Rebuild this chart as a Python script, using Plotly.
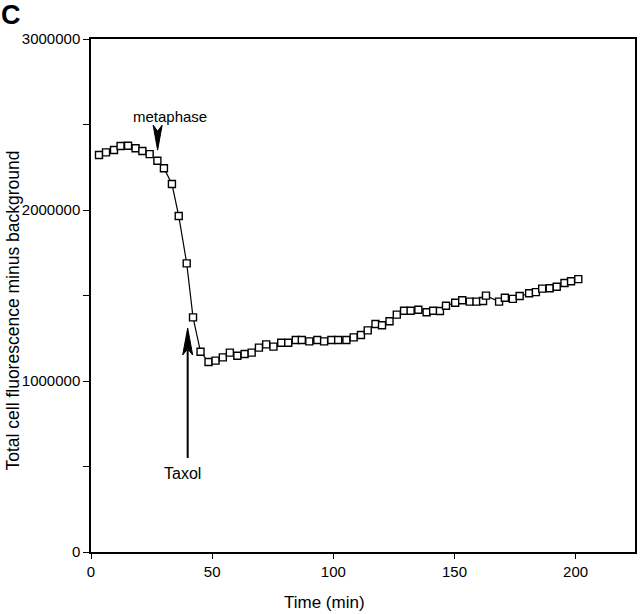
import plotly.graph_objects as go

# Time (min) and total fluorescence values
time_min = [3.3, 6.2, 9.5, 12.2, 15.3, 18.4, 21.2, 24.2, 27.4, 30.1,
            33.4, 36.2, 39.5, 42.1, 45.2, 48.5, 51.4, 54.4, 57.3, 60.4,
            63.4, 66.3, 69.3, 72.3, 75.3, 78.5, 81.4, 84.5, 87.0, 90.1,
            93.4, 96.2, 99.2, 102.0, 105.4, 108.4, 111.4, 114.2, 117.4, 120.1,
            123.2, 126.2, 129.2, 131.9, 135.1, 138.5, 141.2, 144.0, 146.5, 150.3,
            153.2, 156.3, 159.1, 161.8, 163.0, 168.4, 170.8, 174.1, 176.9, 180.8,
            183.6, 186.2, 189.3, 192.2, 195.4, 198.1, 201.1]
fluorescence = [2322000, 2337000, 2351000, 2374000, 2376000, 2361000, 2345000, 2327000, 2288000, 2244000,
                2152000, 1965000, 1688000, 1372000, 1171000, 1111000, 1119000, 1138000, 1166000, 1148000,
                1158000, 1166000, 1195000, 1214000, 1201000, 1224000, 1224000, 1240000, 1240000, 1232000,
                1240000, 1232000, 1240000, 1240000, 1240000, 1255000, 1269000, 1296000, 1333000, 1326000,
                1349000, 1388000, 1411000, 1411000, 1417000, 1402000, 1411000, 1409000, 1440000, 1458000,
                1472000, 1464000, 1464000, 1468000, 1499000, 1464000, 1487000, 1480000, 1497000, 1513000,
                1520000, 1540000, 1542000, 1551000, 1573000, 1583000, 1596000]

x_ticks = [0, 50, 100, 150, 200]
y_ticks = [0, 1000000, 2000000, 3000000]

# events marked on the curve: (time, level at arrow tip)
metaphase_pos = (27.5, 2350000)
taxol_pos = (39.9, 1310000)

FONT = "Liberation Sans, Arial, Helvetica, sans-serif"

fig = go.Figure()
fig.add_trace(go.Scatter(
    x=time_min, y=fluorescence, mode="lines+markers",
    line=dict(color="black", width=1.2),
    marker=dict(symbol="square", size=7, color="white",
                line=dict(color="black", width=1.4)),
    showlegend=False, hoverinfo="x+y"))

# metaphase: small filled arrowhead pointing down (no shaft)
fig.add_shape(type="path", xref="x", yref="y",
              xsizemode="pixel", ysizemode="pixel",
              xanchor=metaphase_pos[0], yanchor=metaphase_pos[1],
              path="M0,0 L-4.5,25 L0,19 L4.5,25 Z",
              fillcolor="black", line=dict(color="black", width=1))
fig.add_annotation(x=metaphase_pos[0], y=metaphase_pos[1], xref="x", yref="y",
                   text="metaphase", showarrow=False, xshift=12, yshift=34,
                   xanchor="center", yanchor="middle",
                   font=dict(family=FONT, size=15, color="black"))

# Taxol: arrow with shaft pointing up
fig.add_shape(type="path", xref="x", yref="y",
              xsizemode="pixel", ysizemode="pixel",
              xanchor=taxol_pos[0], yanchor=taxol_pos[1],
              path="M0,0 L-5,-27 L0,-21 L5,-27 Z",
              fillcolor="black", line=dict(color="black", width=1))
fig.add_shape(type="line", xref="x", yref="y",
              xsizemode="pixel", ysizemode="pixel",
              xanchor=taxol_pos[0], yanchor=taxol_pos[1],
              x0=0, y0=-22, x1=0, y1=-130,
              line=dict(color="black", width=2))
fig.add_annotation(x=taxol_pos[0], y=taxol_pos[1], xref="x", yref="y",
                   text="Taxol", showarrow=False, xshift=-5, yshift=-146,
                   xanchor="center", yanchor="middle",
                   font=dict(family=FONT, size=16, color="black"))

# panel letter
fig.add_annotation(x=-0.147, y=1.047, xref="paper", yref="paper",
                   text="<b>C</b>", showarrow=False,
                   xanchor="center", yanchor="middle",
                   font=dict(family=FONT, size=27, color="black"))

# axis titles placed as in the original
fig.add_annotation(x=0.43, y=-0.098, xref="paper", yref="paper",
                   text="Time (min)", showarrow=False,
                   xanchor="center", yanchor="middle",
                   font=dict(family=FONT, size=17, color="black"))
fig.add_annotation(x=-0.144, y=0.47, xref="paper", yref="paper",
                   text="Total cell fluorescence minus background", showarrow=False,
                   textangle=-90, xanchor="center", yanchor="middle",
                   font=dict(family=FONT, size=17.5, color="black"))

fig.update_xaxes(range=[0, 224.5], tickvals=x_ticks, ticks="outside", ticklen=5,
                 tickwidth=1, tickcolor="black", showline=True, linecolor="black",
                 linewidth=1.5, mirror=True, showgrid=False, zeroline=False,
                 tickfont=dict(family=FONT, size=15, color="black"))
fig.update_yaxes(range=[0, 3000000], tickvals=y_ticks, ticks="outside", ticklen=6,
                 tickwidth=1, tickcolor="black", showline=True, linecolor="black",
                 linewidth=1.5, mirror=True, showgrid=False, zeroline=False,
                 tickformat="d",
                 minor=dict(dtick=500000, ticks="outside", ticklen=6, tickcolor="black"),
                 tickfont=dict(family=FONT, size=15, color="black"))

fig.update_layout(width=640, height=614, plot_bgcolor="white", paper_bgcolor="white",
                  margin=dict(l=91, r=3, t=39, b=62))

fig.write_html("out.html", config={"displayModeBar": False},
               post_script="document.body.style.margin='0';")
